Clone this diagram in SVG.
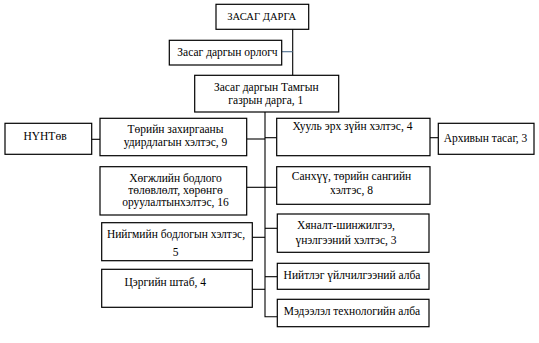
<svg xmlns="http://www.w3.org/2000/svg" width="539" height="343" viewBox="0 0 539 343">
<style>
.box{fill:#fff;stroke:#000;stroke-width:1.2}
.t{font-family:'Liberation Serif','Times New Roman',Times,serif;font-size:11.5px;fill:#000;text-anchor:middle}
.c{stroke:#000;stroke-width:1.1;fill:none}
</style>
<rect width="539" height="343" fill="#fff"/>
<g id="connectors">
<path class="c" d="M292.7 29.3V75.3"/>
<path d="M281.7 51.7H292.7" stroke="#4f6f8f" stroke-width="1.1"/>
<path class="c" d="M265 112V316.7H277.3"/>
<path class="c" d="M91.7 139.3H100"/>
<path class="c" d="M246.7 139H265"/>
<path class="c" d="M265 137.7H276.7"/>
<path class="c" d="M430 137.7H438.3"/>
<path class="c" d="M246.7 187.3H276.7"/>
<path class="c" d="M265 228.3H277.3"/>
<path class="c" d="M252.3 237.3H265"/>
<path class="c" d="M265 276.7H277.3"/>
<path class="c" d="M252.3 289.3H265"/>
</g>
<g id="n_zasag">
<rect class="box" x="216" y="4.3" width="92.7" height="25"/>
<text class="t" x="261.7" y="20" style="font-size:10.6px">ЗАСАГ ДАРГА</text>
</g>
<g id="n_orlogch">
<rect class="box" x="169.3" y="40.3" width="112.4" height="24.7"/>
<text class="t" x="227.5" y="56">Засаг даргын орлогч</text>
</g>
<g id="n_tamgyn">
<rect class="box" x="194.7" y="75.3" width="144" height="36.7"/>
<text class="t" x="266.3" y="91">Засаг даргын Тамгын</text>
<text class="t" x="265.8" y="104">газрын дарга, 1</text>
</g>
<g id="n_nuntov">
<rect class="box" x="5" y="123.3" width="86.7" height="31"/>
<text class="t" x="45" y="140">НҮНТөв</text>
</g>
<g id="n_toriin">
<rect class="box" x="100" y="118.3" width="146.7" height="37.4"/>
<text class="t" x="175.5" y="133">Төрийн захиргааны</text>
<text class="t" x="175.5" y="145.5">удирдлагын хэлтэс, 9</text>
</g>
<g id="n_khugjil">
<rect class="box" x="100" y="166.7" width="146.7" height="48.3"/>
<text class="t" x="175.5" y="181.5">Хөгжлийн бодлого</text>
<text class="t" x="175.5" y="193.5">төлөвлөлт, хөрөнгө</text>
<text class="t" x="175.5" y="205.5">оруулалтынхэлтэс, 16</text>
</g>
<g id="n_niigmiin">
<rect class="box" x="101.7" y="222.7" width="150.6" height="38"/>
<text class="t" x="176" y="237.5">Нийгмийн бодлогын хэлтэс,</text>
<text class="t" x="175.7" y="256">5</text>
</g>
<g id="n_tserg">
<rect class="box" x="101.7" y="269.3" width="150.6" height="38"/>
<text class="t" x="165.3" y="285.5">Цэргийн штаб, 4</text>
</g>
<g id="n_khuul">
<rect class="box" x="276.7" y="118.3" width="153.3" height="37.4"/>
<text class="t" x="352.5" y="129.5">Хууль эрх зүйн хэлтэс, 4</text>
</g>
<g id="n_arkhiv">
<rect class="box" x="438.3" y="123.3" width="95.7" height="31"/>
<text class="t" x="485.5" y="141.5">Архивын тасаг, 3</text>
</g>
<g id="n_sankhuu">
<rect class="box" x="276.7" y="166.7" width="153.3" height="37.6"/>
<text class="t" x="351.5" y="180">Санхүү, төрийн сангийн</text>
<text class="t" x="351.5" y="193.5">хэлтэс, 8</text>
</g>
<g id="n_khyanalt">
<rect class="box" x="277.3" y="214" width="151.7" height="38.3"/>
<text class="t" x="346" y="229">Хяналт-шинжилгээ,</text>
<text class="t" x="346" y="243.5">үнэлгээний хэлтэс, 3</text>
</g>
<g id="n_niitleg">
<rect class="box" x="277.3" y="263.3" width="151.7" height="26"/>
<text class="t" x="352" y="279">Нийтлэг үйлчилгээний алба</text>
</g>
<g id="n_medeelel">
<rect class="box" x="277.3" y="299.3" width="151.7" height="27.4"/>
<text class="t" x="352" y="314.5">Мэдээлэл технологийн алба</text>
</g>
</svg>
